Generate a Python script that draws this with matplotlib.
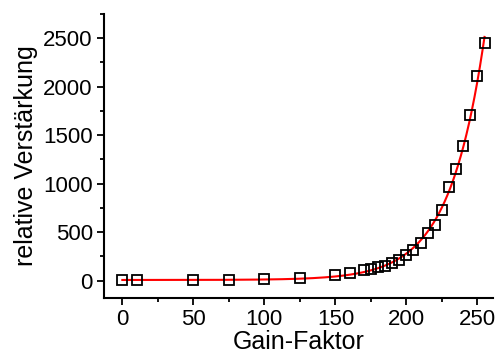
import numpy as np
import matplotlib
matplotlib.use('Agg')
import matplotlib.pyplot as plt
from matplotlib.ticker import MultipleLocator

plt.rcParams['font.family'] = ['Liberation Sans', 'DejaVu Sans']

gain = [0, 10, 50, 75, 100, 125, 150, 160, 170, 175, 180, 185, 190, 195,
        200, 205, 210, 215, 220, 225, 230, 235, 240, 245, 250, 255]
verst = [1, 2, 4, 7, 15, 30, 57, 77, 108, 118, 139, 150, 184, 211,
         263, 314, 386, 493, 572, 727, 964, 1148, 1390, 1706, 2108, 2448]


def fit_exp(x, y):
    # y = A*exp(x/t) + y0, scan t and solve linear part
    x = np.asarray(x, float)
    y = np.asarray(y, float)
    best = None
    for t in np.linspace(10, 60, 2001):
        M = np.column_stack([np.exp(x / t), np.ones_like(x)])
        coef, res, *_ = np.linalg.lstsq(M, y, rcond=None)
        err = np.sum((M @ coef - y) ** 2)
        if best is None or err < best[0]:
            best = (err, t, coef)
    return best[1], best[2]


def main():
    fig = plt.figure(figsize=(4.97, 3.56), dpi=100)
    ax = fig.add_axes([0.209, 0.163, 0.783, 0.798])

    t, (A, y0) = fit_exp(gain, verst)
    xf = np.linspace(0, 255, 400)
    ax.plot(xf, A * np.exp(xf / t) + y0, color='red', lw=1.5, zorder=2)
    ax.plot(gain, verst, ls='none', marker='s', ms=7, mfc='none',
            mec='black', mew=1.3, zorder=3)

    ax.set_xlim(-13, 261)
    ax.set_ylim(-180, 2750)
    ax.xaxis.set_major_locator(MultipleLocator(50))
    ax.xaxis.set_minor_locator(MultipleLocator(25))
    ax.yaxis.set_major_locator(MultipleLocator(500))
    ax.yaxis.set_minor_locator(MultipleLocator(250))
    ax.tick_params(which='major', direction='out', length=5, width=1.3,
                   labelsize=16, pad=3)
    ax.tick_params(which='minor', direction='out', length=3, width=1.3)
    for s in ['top', 'right']:
        ax.spines[s].set_visible(False)
    for s in ['left', 'bottom']:
        ax.spines[s].set_linewidth(1.5)

    ax.set_xlabel('Gain-Faktor', fontsize=18, labelpad=0)
    ax.set_ylabel('relative Verstärkung', fontsize=18, labelpad=4)

    fig.savefig('out.png', dpi=100)


if __name__ == '__main__':
    main()
